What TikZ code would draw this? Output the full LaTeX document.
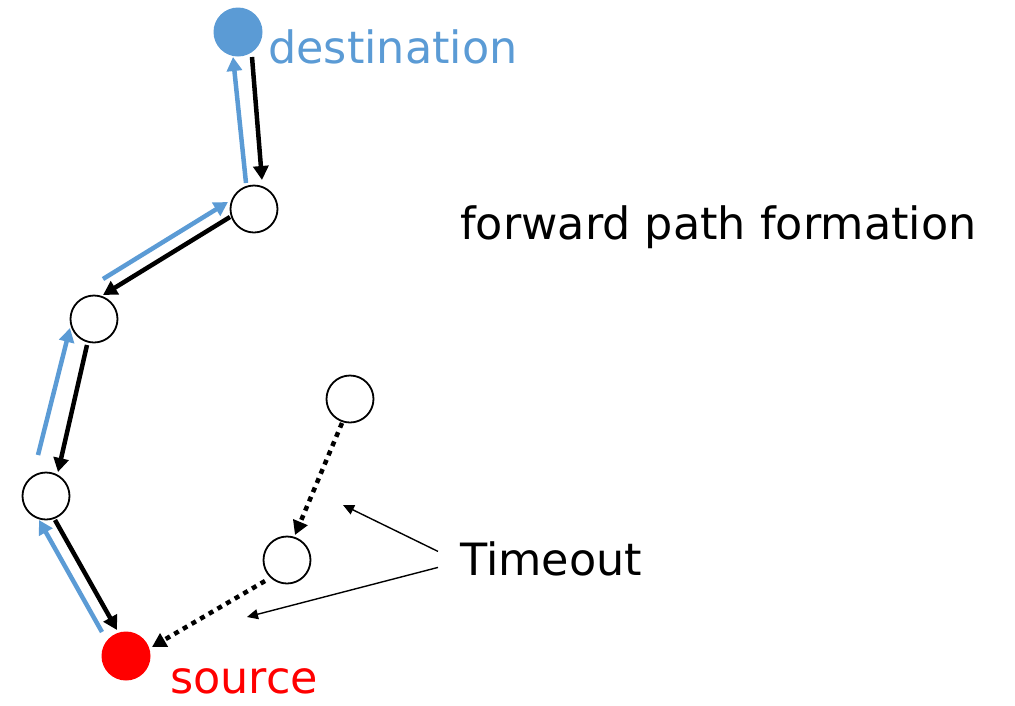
\documentclass[tikz,border=0pt]{standalone}
\usepackage{fontspec}
\setmainfont{DejaVu Sans}
\usetikzlibrary{arrows.meta,calc}
\definecolor{pathblue}{HTML}{5B9BD5}
\definecolor{srcred}{HTML}{FF0000}
\tikzset{
  hop/.style={circle,draw=black,line width=1.8pt,fill=white,minimum size=47pt,inner sep=0pt},
  endpt/.style={circle,minimum size=49pt,inner sep=0pt},
  reply/.style={line width=4.5pt,draw=black,-{Triangle[length=14pt,width=15pt]}},
  request/.style={line width=4.5pt,draw=pathblue,-{Triangle[length=14pt,width=15pt]}},
  expired/.style={line width=4.5pt,draw=black,dash pattern=on 5pt off 5pt,-{Triangle[length=14pt,width=15pt]}},
  pointer/.style={line width=1.4pt,draw=black,-{Triangle[length=11pt,width=10pt]}},
  lbl/.style={inner sep=0pt,font=\fontsize{44.5}{48}\selectfont}
}
\begin{document}
\begin{tikzpicture}[x=1pt,y=-1pt]
\useasboundingbox (0,0) rectangle (1015,705);

% nodes of the route
\node[endpt,fill=pathblue] (dst) at (238,32) {};
\node[hop] (h1) at (254,209) {};
\node[hop] (h2) at (94,319) {};
\node[hop] (h3) at (46,496) {};
\node[endpt,fill=srcred] (src) at (126,656) {};
\node[hop] (h4) at (350,399) {};
\node[hop] (h5) at (287,560) {};

% labels
\node[lbl,anchor=base west,text=pathblue] (dstlbl) at (268,63) {destination};
\node[lbl,anchor=base west,text=srcred] (srclbl) at (170,693) {source};
\node[lbl,anchor=base west] (title) at (460,239) {forward path formation};
\node[lbl,anchor=base west] (timeout) at (460,575) {Timeout};

% reply path towards the source (black)
\draw[reply] ($(dst)+(14,25)$) -- ($(h1)+(8,-29)$);
\draw[reply] ($(h1)+(-24,8)$) -- ($(h2)+(9,-24)$);
\draw[reply] ($(h2)+(-7,26)$) -- ($(h3)+(12,-24)$);
\draw[reply] ($(h3)+(9,24)$) -- ($(src)+(-9,-26)$);

% request path towards the destination (blue)
\draw[request] ($(src)+(-24,-24)$) -- ($(h3)+(-7,24)$);
\draw[request] ($(h3)+(-8,-41)$) -- ($(h2)+(-24,9)$);
\draw[request] ($(h2)+(9,-40)$) -- ($(h1)+(-26,-7)$);
\draw[request] ($(h1)+(-8,-26)$) -- ($(dst)+(-5,25)$);

% branch that timed out
\draw[expired] ($(h4)+(-8,24)$) -- ($(h5)+(8,-25)$);
\draw[expired] ($(h5)+(-22,21)$) -- ($(src)+(26,-9)$);

% callouts
\coordinate (tA) at (343,505);
\coordinate (tB) at (247,617);
\draw[pointer] ($(timeout.west)+(-22,-7)$) -- (tA);
\draw[pointer] ($(timeout.west)+(-22,9)$) -- (tB);
\end{tikzpicture}
\end{document}
